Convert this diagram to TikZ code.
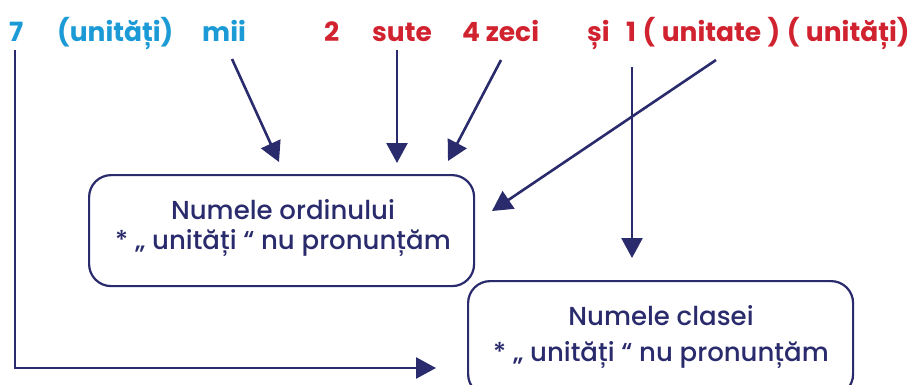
\documentclass[tikz,border=0pt]{standalone}
\usepackage{fontspec}
\setmainfont{Poppins}
\newfontfamily\boxfont{Poppins}[UprightFont={* Medium}]
\usetikzlibrary{arrows.meta}
\definecolor{tblue}{HTML}{1C9AD6}
\definecolor{tred}{HTML}{D1222F}
\definecolor{navy}{HTML}{2A2B6C}
\tikzset{
  toplbl/.style={anchor=base west, inner sep=0pt, font=\fontsize{26.5}{28}\selectfont\bfseries},
  bluelbl/.style={toplbl, text=tblue},
  redlbl/.style={toplbl, text=tred},
  infobox/.style={draw=navy, line width=2.2pt, rounded corners=22pt, inner sep=0pt, anchor=north west},
  boxtxt/.style={inner sep=0pt, anchor=base, text=navy, font=\boxfont\fontsize{26}{28}\selectfont},
  conn/.style={draw=navy, line width=2.6pt, -{Triangle[length=20pt,width=21pt]}},
}
\begin{document}
\begin{tikzpicture}[x=1pt,y=-1pt]
\useasboundingbox (0,0) rectangle (912,385);
% top labels
\node[bluelbl] (n7) at (9,42) {7};
\node[bluelbl] (unit1) at (57,42) {(unități)};
\node[bluelbl] (mii) at (202,42) {mii};
\node[redlbl] (n2) at (324,42) {2};
\node[redlbl] (sute) at (372,42) {sute};
\node[redlbl] (zeci) at (462,42) {4 zeci};
\node[redlbl] (si) at (587,42) {și};
\node[redlbl] (unit2) at (626,42) {\spaceskip=6.5pt 1 ( unitate ) ( unități)};
% boxes
\node[infobox, minimum width=385pt, minimum height=111pt] (box1) at (88,174) {};
\node[infobox, minimum width=385pt, minimum height=115pt] (box2) at (467,280) {};
\node[boxtxt] (b1l1) at (283,219) {Numele ordinului};
\node[boxtxt] (b1l2) at (283,249) {* „ unități “ nu pronunțăm};
\node[boxtxt] (b2l1) at (661,325) {Numele clasei};
\node[boxtxt] (b2l2) at (661,361) {* „ unități “ nu pronunțăm};
% arrow coordinates
\coordinate (s1) at (232,59);
\coordinate (t1) at (279,162);
\coordinate (s2) at (397,50);
\coordinate (t2) at (397,163);
\coordinate (s3) at (501,60);
\coordinate (t3) at (448,161);
\coordinate (s4) at (716,60);
\coordinate (t4) at (492,211);
\coordinate (s5) at (632,67);
\coordinate (t5) at (632,258);
\coordinate (s6) at (15,50);
\coordinate (c6) at (15,368);
\coordinate (t6) at (436,368);
\draw[conn] (s1) -- (t1);
\draw[conn] (s2) -- (t2);
\draw[conn] (s3) -- (t3);
\draw[conn] (s4) -- (t4);
\draw[conn] (s5) -- (t5);
\draw[conn] (s6) -- (c6) -- (t6);
\end{tikzpicture}
\end{document}
